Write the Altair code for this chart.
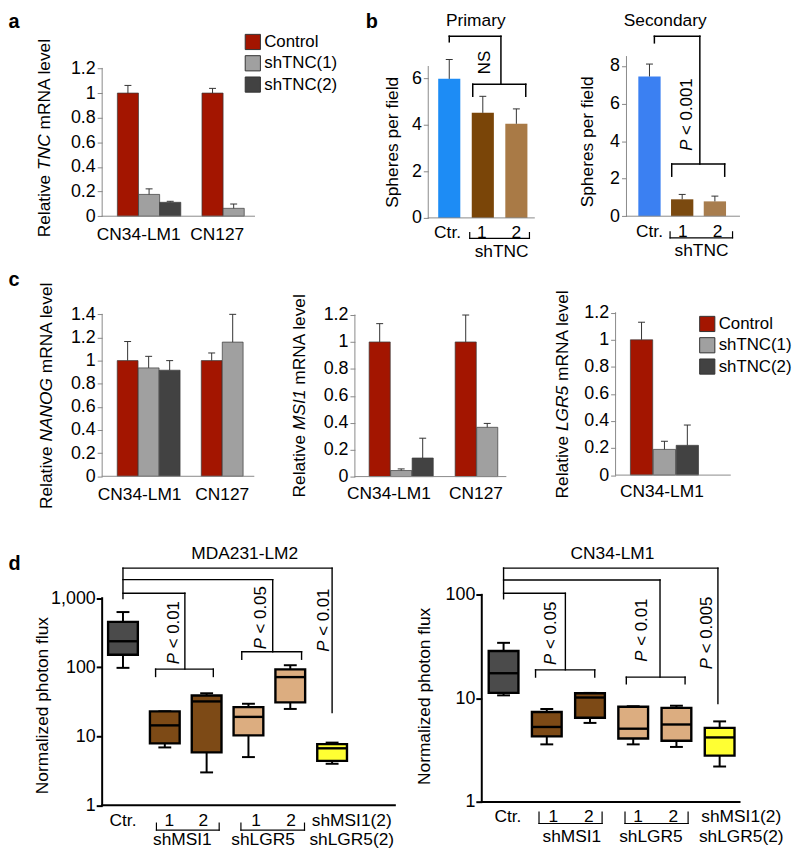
import math
import altair as alt
import pandas as pd

FONT = "Liberation Sans"
ONE = pd.DataFrame({"k": [0]})

# ============================ DATA ============================
# a: relative TNC mRNA level (mean and s.e.m.)
tnc_groups = ["CN34-LM1", "CN34-LM1", "CN34-LM1", "CN127", "CN127"]
tnc_series = ["Control", "shTNC(1)", "shTNC(2)", "Control", "shTNC(1)"]
tnc_values = [1.0, 0.177, 0.113, 1.0, 0.064]
tnc_errors = [0.062, 0.045, 0.008, 0.038, 0.035]

# b: spheres per field
sph_labels = ["Ctr.", "1", "2"]
primary_values = [5.97, 4.51, 4.04]
primary_errors = [0.83, 0.71, 0.64]
secondary_values = [7.44, 0.90, 0.79]
secondary_errors = [0.66, 0.26, 0.28]

# c: stem-cell gene expression
nanog_groups = ["CN34-LM1", "CN34-LM1", "CN34-LM1", "CN127", "CN127"]
nanog_series = ["Control", "shTNC(1)", "shTNC(2)", "Control", "shTNC(1)"]
nanog_values = [1.0, 0.937, 0.917, 1.0, 1.16]
nanog_errors = [0.165, 0.10, 0.083, 0.066, 0.24]
msi1_groups = ["CN34-LM1", "CN34-LM1", "CN34-LM1", "CN127", "CN127"]
msi1_series = ["Control", "shTNC(1)", "shTNC(2)", "Control", "shTNC(1)"]
msi1_values = [1.0, 0.045, 0.138, 1.0, 0.366]
msi1_errors = [0.136, 0.012, 0.147, 0.20, 0.029]
lgr5_groups = ["CN34-LM1", "CN34-LM1", "CN34-LM1"]
lgr5_series = ["Control", "shTNC(1)", "shTNC(2)"]
lgr5_values = [1.0, 0.19, 0.22]
lgr5_errors = [0.13, 0.06, 0.15]

series_order = ["Control", "shTNC(1)", "shTNC(2)"]

# d: normalized photon flux box plots (min, q1, median, q3, max)
box_groups = ["Ctr.", "shMSI1 1", "shMSI1 2", "shLGR5 1", "shLGR5 2", "shMSI1(2)+shLGR5(2)"]
box_kinds = ["ctrl", "msi1", "msi1", "lgr5", "lgr5", "both"]
mda_min = [98, 6.9, 3.0, 5.0, 24.9, 4.0]
mda_q1 = [152, 7.9, 5.85, 10.3, 31, 4.4]
mda_med = [238, 14.4, 32, 19.1, 72, 6.7]
mda_q3 = [454, 23, 39, 26.5, 93, 7.7]
mda_max = [630, 23, 42, 29.6, 107, 8.1]
cn_min = [10.7, 3.6, 5.8, 3.6, 3.4, 2.2]
cn_q1 = [11.3, 4.3, 6.5, 4.1, 3.9, 2.8]
cn_med = [17.5, 5.3, 10.2, 5.1, 5.6, 4.2]
cn_q3 = [28.7, 7.4, 11.2, 8.3, 8.1, 5.2]
cn_max = [34.4, 7.9, 11.3, 8.4, 8.5, 6.0]

# ============================ STYLE ============================
C_SERIES = ["#a31500", "#a0a0a0", "#424242"]
C_B1 = ["#1d8cf5", "#7a4508", "#a97a46"]
C_B2 = ["#3b80f2", "#7b4a10", "#a87d4e"]
BOX_KIND_DOMAIN = ["ctrl", "msi1", "lgr5", "both"]
BOX_KIND_RANGE = ["#4b4b4b", "#7d4a16", "#dcad80", "#ffff33"]

ARIAL = {" ": 278, "<": 584, ".": 278, ",": 278, "(": 333, ")": 333, "-": 333,
         "A": 667, "C": 722, "G": 778, "I": 278, "L": 556, "M": 833, "N": 722, "O": 778,
         "P": 667, "R": 722, "S": 667, "T": 611, "a": 556, "d": 556, "e": 556, "f": 278,
         "h": 556, "i": 222, "l": 222, "m": 833, "n": 556, "o": 556, "p": 556, "r": 333,
         "s": 500, "t": 278, "u": 556, "v": 500, "x": 500, "z": 500}


def tw(s, fs):
    return sum(ARIAL.get(c, 556) for c in s) * fs / 1000.0


def lin_dom(T, H, p0, pr, vr):
    k = (p0 - pr) / vr
    return [-(T + H - p0) / k, (p0 - T) / k]


def log_dom(T, H, p1, pr, vr):
    k = (p1 - pr) / math.log10(vr)
    return [10 ** (-(T + H - p1) / k), 10 ** ((p1 - T) / k)]


def sc(dom, typ="linear"):
    return alt.Scale(type=typ, domain=dom, nice=False, zero=False)


class Ctx:
    def __init__(self, xs, ys, yax):
        self.xs, self.ys, self.yax = xs, ys, yax

    def X(self, f):
        return alt.X(f, scale=self.xs, axis=None)

    def Y(self, f):
        return alt.Y(f, scale=self.ys, axis=self.yax)


def segs(rows, c, color="black", width=1.4):
    df = pd.DataFrame(rows, columns=["x", "x2", "y", "y2"])
    return alt.Chart(df).mark_rule(color=color, strokeWidth=width, strokeCap="square").encode(
        x=c.X("x:Q"), x2="x2:Q", y=c.Y("y:Q"), y2="y2:Q")


def xtext(items, c, ybase, dy, fs=17.5):
    df = pd.DataFrame(items, columns=["t", "x"])
    df["y"] = ybase
    return alt.Chart(df).mark_text(dy=dy, fontSize=fs, baseline="middle", align="center",
                                   color="black").encode(x=c.X("x:Q"), y=c.Y("y:Q"), text="t:N")


def ptext(s, x, y, **kw):
    return alt.Chart(ONE).mark_text(text=s, color="black", **kw).encode(
        x=alt.value(x), y=alt.value(y))


def top_title(s, xv, c, y, fs=17.5):
    df = pd.DataFrame({"x": [xv]})
    return alt.Chart(df).mark_text(text=s, fontSize=fs, baseline="top", align="center",
                                   color="black").encode(x=c.X("x:Q"), y=alt.value(y))


def vtitle(parts, cx, cy, fs=17.5):
    total = tw("".join(p for p, _ in parts), fs)
    off = -total / 2.0
    out = []
    for p, it in parts:
        lead = len(p) - len(p.lstrip(" "))
        out.append(alt.Chart(ONE).mark_text(
            text=p.strip(" "), angle=270, align="left", baseline="middle", fontSize=fs,
            fontStyle="italic" if it else "normal", dx=off + tw(" " * lead, fs),
            color="black").encode(x=alt.value(cx), y=alt.value(cy)))
        off += tw(p, fs)
    return out


def plabels(items, c, fs=17):
    df = pd.DataFrame(items, columns=["x", "y", "rest"])
    base = alt.Chart(df).encode(x=c.X("x:Q"), y=c.Y("y:Q"))
    p = base.mark_text(text="P", angle=270, align="left", baseline="middle", fontSize=fs,
                       fontStyle="italic", color="black")
    r = base.mark_text(angle=270, align="left", baseline="middle", fontSize=fs,
                       dx=tw("P ", fs), color="black").encode(text="rest:N")
    return [p, r]


def vlabel(s, xv, yv, c, fs=17):
    df = pd.DataFrame({"x": [xv], "y": [yv]})
    return alt.Chart(df).mark_text(text=s, angle=270, align="center", baseline="middle",
                                   fontSize=fs, color="black").encode(x=c.X("x:Q"), y=c.Y("y:Q"))


def bar_axis(vals):
    return alt.Axis(values=vals, format="~g", domain=False, grid=False, tickSize=5,
                    tickColor="#888888", tickWidth=1, labelFontSize=18, labelColor="black",
                    labelPadding=2, title=None, labelFont=FONT)


def bar_panel(cats, values, errors, pos, dom, rng, g, yticks, ytop, legend, stroke):
    xdom = [-g["off"] / g["step"], (g["W"] - g["off"]) / g["step"]]
    c = Ctx(sc(xdom), sc(lin_dom(g["T"], g["H"], g["y0"], g["yr_px"], g["yr_v"])), bar_axis(yticks))
    xmin = xdom[0]
    xend = xmin + g["end"] / g["step"]
    df = pd.DataFrame({"series": cats, "value": values, "err": errors, "pos": pos})
    hb = g["bar"] / g["step"] / 2
    hc = 3.5 / g["step"]
    base = alt.Chart(df).transform_calculate(
        x0=f"datum.pos - {hb}", x1=f"datum.pos + {hb}", top="datum.value + datum.err",
        c0=f"datum.pos - {hc}", c1=f"datum.pos + {hc}")
    bar_kw = dict(stroke="#3a3a3a", strokeWidth=0.7) if stroke else {}
    bars = base.mark_bar(**bar_kw).encode(
        x=c.X("x0:Q"), x2="x1:Q", y=c.Y("value:Q"), y2=alt.datum(0),
        color=alt.Color("series:N", scale=alt.Scale(domain=dom, range=rng), legend=legend))
    err = base.mark_rule(color="#333333", strokeWidth=1).encode(
        x=c.X("pos:Q"), y=c.Y("value:Q"), y2="top:Q")
    caps = base.mark_rule(color="#333333", strokeWidth=1).encode(
        x=c.X("c0:Q"), x2="c1:Q", y=c.Y("top:Q"))
    axes = segs([(xmin, xmin, 0, ytop), (xmin, xend, 0, 0)], c, color="#8a8a8a", width=1)
    return [bars, err, caps, axes], c


def mrna_pos(groups, series):
    gi = {k: i for i, k in enumerate(dict.fromkeys(groups))}
    return [gi[a] * 4 + series_order.index(b) for a, b in zip(groups, series)]


def legend_at(x, y):
    return alt.Legend(orient="none", legendX=x, legendY=y, title=None, symbolType="square",
                      symbolSize=235, symbolStrokeColor="#333333", symbolStrokeWidth=1,
                      symbolOpacity=1, labelFontSize=17, labelColor="black", rowPadding=0.5,
                      labelOffset=3, padding=0, labelFont=FONT)


def box_panel(mins, q1s, meds, q3s, maxs, g, yticks, ytop):
    xdom = [-g["off"] / g["step"], (g["W"] - g["off"]) / g["step"]]
    yax = alt.Axis(values=yticks, format=",", domain=False, grid=False, tickSize=6,
                   tickColor="black", tickWidth=2, labelFontSize=18, labelColor="black",
                   labelPadding=1, title=None, labelFont=FONT)
    c = Ctx(sc(xdom), sc(log_dom(g["T"], g["H"], g["p1"], g["pr"], g["vr"]), "log"), yax)
    xmin = xdom[0]
    df = pd.DataFrame({"grp": box_groups, "kind": box_kinds, "lo": mins, "q1": q1s,
                       "med": meds, "q3": q3s, "hi": maxs, "pos": list(range(len(box_groups)))})
    hb = g["box"] / g["step"] / 2
    hc = 6.5 / g["step"]
    base = alt.Chart(df).transform_calculate(
        x0=f"datum.pos - {hb}", x1=f"datum.pos + {hb}",
        c0=f"datum.pos - {hc}", c1=f"datum.pos + {hc}")
    whisk = base.mark_rule(color="black", strokeWidth=2).encode(
        x=c.X("pos:Q"), y=c.Y("lo:Q"), y2="hi:Q")
    cap_lo = base.mark_rule(color="black", strokeWidth=2).encode(
        x=c.X("c0:Q"), x2="c1:Q", y=c.Y("lo:Q"))
    cap_hi = base.mark_rule(color="black", strokeWidth=2).encode(
        x=c.X("c0:Q"), x2="c1:Q", y=c.Y("hi:Q"))
    box = base.mark_bar(stroke="black", strokeWidth=2.4).encode(
        x=c.X("x0:Q"), x2="x1:Q", y=c.Y("q1:Q"), y2="q3:Q",
        color=alt.Color("kind:N", scale=alt.Scale(domain=BOX_KIND_DOMAIN, range=BOX_KIND_RANGE),
                        legend=None))
    med = base.mark_rule(color="black", strokeWidth=2.4).encode(
        x=c.X("x0:Q"), x2="x1:Q", y=c.Y("med:Q"))
    axes = segs([(xmin, xmin, 1, ytop), (xmin, g["end"], 1, 1)], c, color="black", width=2)
    return [whisk, cap_lo, cap_hi, box, med, axes], c


# ============================ LAYOUT ============================
R2 = 0    # vertical shift of row c
R3 = -8   # vertical shift of row d
T3 = 527

# ---- a ----
ga = dict(W=328.5, H=257, T=8, y0=214.3, yr_px=65.2, yr_v=1.2, off=26, step=21.34, bar=21.3, end=153.7)
la, c = bar_panel(tnc_series, tnc_values, tnc_errors, mrna_pos(tnc_groups, tnc_series),
                  series_order, C_SERIES, ga, [0, 0.2, 0.4, 0.6, 0.8, 1.0, 1.2], 1.2,
                  legend_at(143.5, 22), True)
la += [xtext([("CN34-LM1", 0.51), ("CN127", 4.22)], c, 0, 19)]
la += vtitle([("Relative ", False), ("TNC", True), (" mRNA level", False)], -57.5, 127)
la += [ptext("a", -94.5, 0, fontSize=20, fontWeight="bold", align="left", baseline="top")]
panel_a = alt.layer(*la).properties(width=ga["W"], height=ga["H"])

# ---- b primary ----
gb1 = dict(W=200, H=257, T=8, y0=216, yr_px=75, yr_v=6, off=21.2, step=33.85, bar=22.3, end=107)
lb1, c = bar_panel(sph_labels, primary_values, primary_errors, [0, 1, 2], sph_labels, C_B1,
                   gb1, [0, 2, 4, 6], 6.5, None, False)
lb1 += [segs([(0, 1.54, 7.8, 7.8), (0, 0, 7.8, 7.56), (1.54, 1.54, 7.8, 5.74),
              (0.70, 2.28, 5.74, 5.74), (0.70, 0.70, 5.74, 5.22), (2.28, 2.28, 5.74, 5.22)],
             c, width=1.5)]
lb1 += [segs([(0.61, 2.39, -0.88, -0.88), (0.61, 0.61, -0.88, -0.63), (2.39, 2.39, -0.88, -0.63)],
             c, width=1.2)]
lb1 += [vlabel("NS", 1.07, 6.67, c)]
lb1 += [xtext([("Ctr.", -0.05), ("1", 0.97), ("2", 2.0)], c, 0, 15.7),
        xtext([("shTNC", 1.56)], c, 0, 34)]
lb1 += [top_title("Primary", 0.79, c, 0)]
lb1 += vtitle([("Spheres per field", False)], -36, 131.7)
lb1 += [ptext("b", -63, 0, fontSize=20, fontWeight="bold", align="left", baseline="top")]
panel_b1 = alt.layer(*lb1).properties(width=gb1["W"], height=gb1["H"])

# ---- b secondary ----
gb2 = dict(W=150, H=257, T=8, y0=214.3, yr_px=62.7, yr_v=8, off=23.2, step=33, bar=22.5, end=114)
lb2, c = bar_panel(sph_labels, secondary_values, secondary_errors, [0, 1, 2], sph_labels, C_B2,
                   gb2, [0, 2, 4, 6, 8], 8.5, None, False)
lb2 += [segs([(0.15, 1.54, 9.58, 9.58), (0.15, 0.15, 9.58, 9.23), (1.54, 1.54, 9.58, 2.78),
              (0.68, 2.30, 2.78, 2.78), (0.68, 0.68, 2.78, 2.13), (2.30, 2.30, 2.78, 2.13)],
             c, width=1.5)]
lb2 += [segs([(0.63, 2.54, -1.15, -1.15), (0.63, 0.63, -1.15, -0.83), (2.54, 2.54, -1.15, -0.83)],
             c, width=1.2)]
lb2 += plabels([(1.14, 3.48, "< 0.001")], c)
lb2 += [xtext([("Ctr.", 0.0), ("1", 1.02), ("2", 2.08)], c, 0, 15.7),
        xtext([("shTNC", 1.59)], c, 0, 34.7)]
lb2 += [top_title("Secondary", 0.48, c, 0)]
lb2 += vtitle([("Spheres per field", False)], -38.3, 131.2)
panel_b2 = alt.layer(*lb2).properties(width=gb2["W"], height=gb2["H"])

# ---- c NANOG ----
gc1 = dict(W=254.2, H=262, T=265, y0=476.7 + R2, yr_px=313.3 + R2, yr_v=1.4, off=25.7, step=21.2,
           bar=21, end=153)
lc1, c = bar_panel(nanog_series, nanog_values, nanog_errors, mrna_pos(nanog_groups, nanog_series),
                   series_order, C_SERIES, gc1, [0, 0.2, 0.4, 0.6, 0.8, 1.0, 1.2, 1.4], 1.4,
                   None, True)
lc1 += [xtext([("CN34-LM1", 0.57), ("CN127", 4.5)], c, 0, 19)]
lc1 += vtitle([("Relative ", False), ("NANOG", True), (" mRNA level", False)], -55.5, 130 + R2)
lc1 += [ptext("c", -94.5, 4 + R2, fontSize=20, fontWeight="bold", align="left", baseline="top")]
panel_c1 = alt.layer(*lc1).properties(width=gc1["W"], height=gc1["H"])

# ---- c MSI1 ----
gc2 = dict(W=262.6, H=262, T=265, y0=477 + R2, yr_px=314 + R2, yr_v=1.2, off=25, step=21.7,
           bar=21.3, end=152.3)
lc2, c = bar_panel(msi1_series, msi1_values, msi1_errors, mrna_pos(msi1_groups, msi1_series),
                   series_order, C_SERIES, gc2, [0, 0.2, 0.4, 0.6, 0.8, 1.0, 1.2], 1.2,
                   None, True)
lc2 += [xtext([("CN34-LM1", 0.43), ("CN127", 4.48)], c, 0, 18)]
lc2 += vtitle([("Relative ", False), ("MSI1", True), (" mRNA level", False)], -55, 130 + R2)
panel_c2 = alt.layer(*lc2).properties(width=gc2["W"], height=gc2["H"])

# ---- c LGR5 ----
gc3 = dict(W=165, H=262, T=265, y0=475.5 + R2, yr_px=311.7 + R2, yr_v=1.2, off=26.2, step=23.1,
           bar=22.5, end=115.7)
lc3, c = bar_panel(lgr5_series, lgr5_values, lgr5_errors, mrna_pos(lgr5_groups, lgr5_series),
                   series_order, C_SERIES, gc3, [0, 0.2, 0.4, 0.6, 0.8, 1.0, 1.2], 1.2,
                   legend_at(84, 49.5 + R2), True)
lc3 += [xtext([("CN34-LM1", 0.89)], c, 0, 17)]
lc3 += vtitle([("Relative ", False), ("LGR5", True), (" mRNA level", False)], -52.6, 128.6 + R2)
panel_c3 = alt.layer(*lc3).properties(width=gc3["W"], height=gc3["H"])

# ---- d MDA231-LM2 ----
gd1 = dict(W=382.5, H=317, T=T3, p1=816.7 + R3, pr=607.7 + R3, vr=1000, off=21, step=42.2,
           box=30, end=6.5)
ld1, c = box_panel(mda_min, mda_q1, mda_med, mda_q3, mda_max, gd1, [1, 10, 100, 1000], 1000)
ld1 += [segs([(0, 5.0, 2730, 2730), (5.0, 5.0, 2730, 22.1), (0, 0, 2730, 990),
              (0, 3.58, 1855, 1855), (3.58, 3.58, 1855, 168), (2.84, 4.27, 168, 168),
              (2.84, 2.84, 168, 130.6), (4.27, 4.27, 168, 130.6),
              (0, 1.48, 1180, 1180), (1.48, 1.48, 1180, 93.8), (0.78, 2.16, 93.8, 93.8),
              (0.78, 0.78, 93.8, 73.5), (2.16, 2.16, 93.8, 73.5)], c, width=1.4)]
ld1 += [segs([(0.80, 2.30, 0.438, 0.438), (0.80, 0.80, 0.438, 0.553), (2.30, 2.30, 0.438, 0.553),
              (2.82, 4.34, 0.438, 0.438), (2.82, 2.82, 0.438, 0.553), (4.34, 4.34, 0.438, 0.553)],
             c, width=1.2)]
ld1 += plabels([(1.22, 110.7, "< 0.01"), (3.31, 181.7, "< 0.05"), (4.81, 167.8, "< 0.01")], c)
ld1 += [xtext([("Ctr.", 0.0), ("1", 1.11), ("2", 1.92), ("1", 3.18), ("2", 4.02),
               ("shMSI1(2)", 5.47)], c, 1, 15.5),
        xtext([("shMSI1", 1.42), ("shLGR5", 3.35), ("shLGR5(2)", 5.47)], c, 1, 35)]
ld1 += [top_title("MDA231-LM2", 2.91, c, 563.3 - 9 + R3 - T3)]
ld1 += vtitle([("Normalized photon flux", False)], -59.5, 716 + R3 - T3)
ld1 += [ptext("d", -94.5, 563.5 + R3 - T3, fontSize=20, fontWeight="bold", align="left",
              baseline="top")]
panel_d1 = alt.layer(*ld1).properties(width=gd1["W"], height=gd1["H"])

# ---- d CN34-LM1 ----
gd2 = dict(W=300, H=317, T=T3, p1=813.3 + R3, pr=604.3 + R3, vr=100, off=22, step=43.6,
           box=30, end=5.46)
ld2, c = box_panel(cn_min, cn_q1, cn_med, cn_q3, cn_max, gd2, [1, 10, 100], 100)
ld2 += [segs([(0, 4.96, 181.3, 181.3), (4.96, 4.96, 181.3, 8.92), (0, 0, 181.3, 91.6),
              (0, 3.62, 139.2, 139.2), (3.62, 3.62, 139.2, 16.07), (2.84, 4.20, 16.07, 16.07),
              (2.84, 2.84, 16.07, 13.86), (4.20, 4.20, 16.07, 13.86),
              (0, 1.43, 103.5, 103.5), (1.43, 1.43, 103.5, 18.87), (0.74, 2.11, 18.87, 18.87),
              (0.74, 0.74, 18.87, 16.07), (2.11, 2.11, 18.87, 16.07)], c, width=1.4)]
ld2 += [segs([(0.82, 2.28, 0.62, 0.62), (0.82, 0.82, 0.62, 0.80), (2.28, 2.28, 0.62, 0.80),
              (2.81, 4.27, 0.62, 0.62), (2.81, 2.81, 0.62, 0.80), (4.27, 4.27, 0.62, 0.80)],
             c, width=1.2)]
ld2 += plabels([(1.10, 21.06, "< 0.05"), (3.21, 22.6, "< 0.01"), (4.70, 19.15, "< 0.005")], c)
ld2 += [xtext([("Ctr.", 0.1), ("1", 1.15), ("2", 1.97), ("1", 3.11), ("2", 3.93),
               ("shMSI1(2)", 5.5)], c, 1, 15),
        xtext([("shMSI1", 1.58), ("shLGR5", 3.41), ("shLGR5(2)", 5.5)], c, 1, 35)]
ld2 += [top_title("CN34-LM1", 2.52, c, 563 - 9 + R3 - T3)]
ld2 += vtitle([("Normalized photon flux", False)], -57, 706.7 + R3 - T3)
panel_d2 = alt.layer(*ld2).properties(width=gd2["W"], height=gd2["H"])

row1 = alt.hconcat(panel_a, panel_b1, panel_b2, spacing=0, bounds="flush").resolve_scale(color="independent")
row2 = alt.hconcat(panel_c1, panel_c2, panel_c3, spacing=0, bounds="flush").resolve_scale(color="independent")
row3 = alt.hconcat(panel_d1, panel_d2, spacing=0, bounds="flush").resolve_scale(color="independent")

chart = alt.vconcat(row1, row2, row3, spacing=0, padding=0).resolve_scale(
    color="independent").configure_view(strokeWidth=0).configure_text(font=FONT)

chart.save("out.html", embed_options={"renderer": "svg", "actions": False})
